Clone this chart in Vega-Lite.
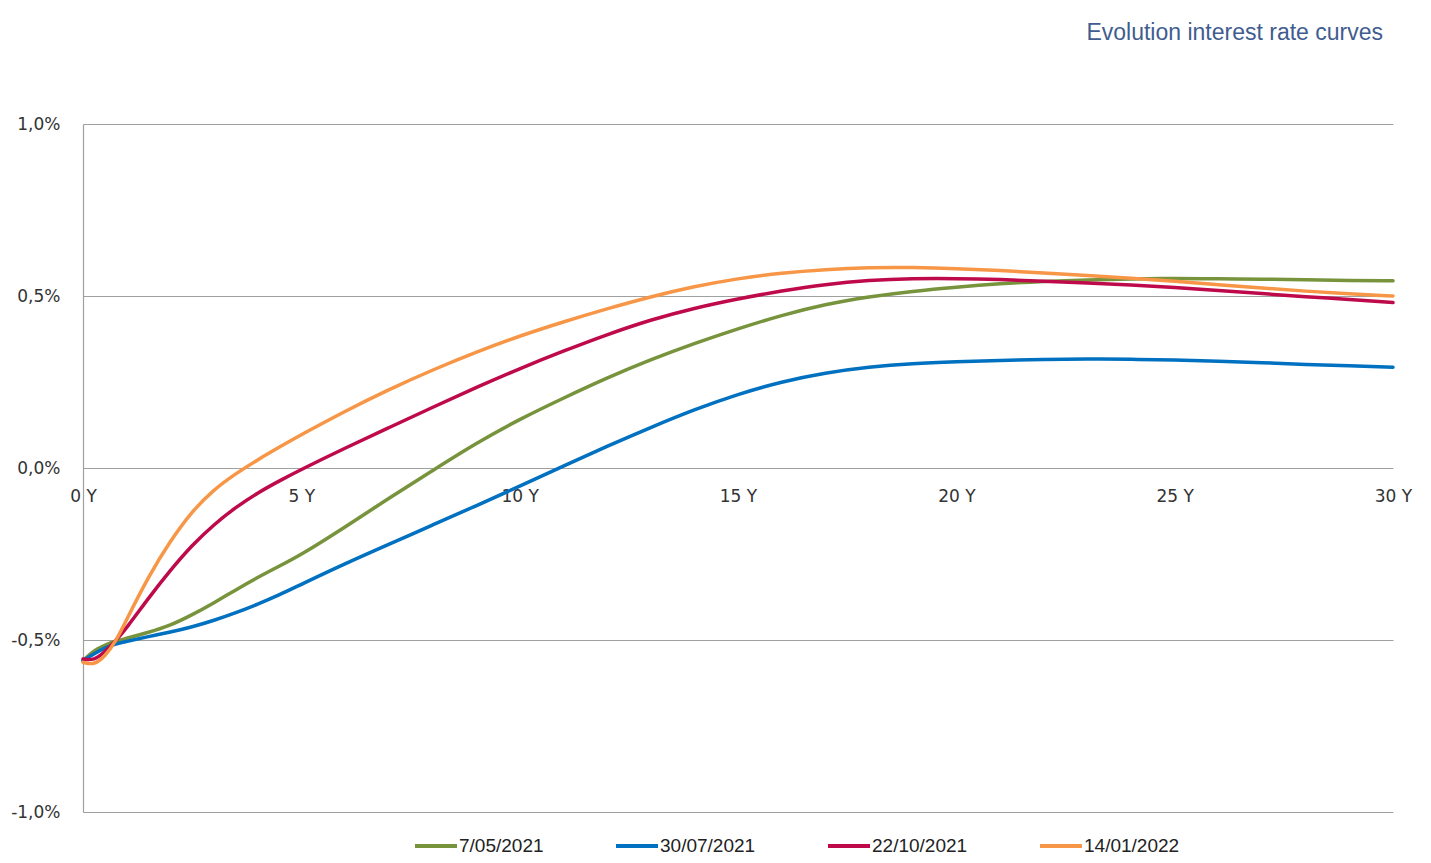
{
  "$schema": "https://vega.github.io/schema/vega-lite/v6.json",
  "autosize": {"type": "none"},
  "width": 1310,
  "height": 688,
  "padding": {"left": 83, "top": 124, "right": 38, "bottom": 51},
  "background": "white",
  "config": {"view": {"stroke": null}},
  "title": {
    "text": "Evolution interest rate curves",
    "anchor": "end",
    "orient": "top",
    "frame": "group",
    "offset": 70,
    "dx": -10,
    "font": "Liberation Sans",
    "fontSize": 23,
    "fontWeight": "normal",
    "color": "#3f5d8f"
  },
  "datasets": {
    "curves": [
      {"date": "7/05/2021", "t": 0, "r": -0.56}, {"date": "7/05/2021", "t": 0.25, "r": -0.53}, {"date": "7/05/2021", "t": 0.5, "r": -0.515}, {"date": "7/05/2021", "t": 0.75, "r": -0.503}, {"date": "7/05/2021", "t": 1, "r": -0.495}, {"date": "7/05/2021", "t": 1.5, "r": -0.478}, {"date": "7/05/2021", "t": 2, "r": -0.458}, {"date": "7/05/2021", "t": 2.5, "r": -0.427}, {"date": "7/05/2021", "t": 3, "r": -0.392}, {"date": "7/05/2021", "t": 3.5, "r": -0.354}, {"date": "7/05/2021", "t": 4, "r": -0.318}, {"date": "7/05/2021", "t": 4.5, "r": -0.285}, {"date": "7/05/2021", "t": 5, "r": -0.252}, {"date": "7/05/2021", "t": 6, "r": -0.172}, {"date": "7/05/2021", "t": 7, "r": -0.088}, {"date": "7/05/2021", "t": 8, "r": -0.008}, {"date": "7/05/2021", "t": 9, "r": 0.072}, {"date": "7/05/2021", "t": 10, "r": 0.142}, {"date": "7/05/2021", "t": 11, "r": 0.203}, {"date": "7/05/2021", "t": 12, "r": 0.262}, {"date": "7/05/2021", "t": 13, "r": 0.315}, {"date": "7/05/2021", "t": 14, "r": 0.362}, {"date": "7/05/2021", "t": 15, "r": 0.405}, {"date": "7/05/2021", "t": 16, "r": 0.444}, {"date": "7/05/2021", "t": 17, "r": 0.476}, {"date": "7/05/2021", "t": 18, "r": 0.498}, {"date": "7/05/2021", "t": 19, "r": 0.514}, {"date": "7/05/2021", "t": 20, "r": 0.526}, {"date": "7/05/2021", "t": 21, "r": 0.536}, {"date": "7/05/2021", "t": 22, "r": 0.543}, {"date": "7/05/2021", "t": 23, "r": 0.547}, {"date": "7/05/2021", "t": 24, "r": 0.55}, {"date": "7/05/2021", "t": 25, "r": 0.551}, {"date": "7/05/2021", "t": 26, "r": 0.55}, {"date": "7/05/2021", "t": 27, "r": 0.549}, {"date": "7/05/2021", "t": 28, "r": 0.547}, {"date": "7/05/2021", "t": 29, "r": 0.545}, {"date": "7/05/2021", "t": 30, "r": 0.544},
      {"date": "30/07/2021", "t": 0, "r": -0.56}, {"date": "30/07/2021", "t": 0.25, "r": -0.54}, {"date": "30/07/2021", "t": 0.5, "r": -0.523}, {"date": "30/07/2021", "t": 0.75, "r": -0.511}, {"date": "30/07/2021", "t": 1, "r": -0.504}, {"date": "30/07/2021", "t": 1.5, "r": -0.49}, {"date": "30/07/2021", "t": 2, "r": -0.477}, {"date": "30/07/2021", "t": 2.5, "r": -0.462}, {"date": "30/07/2021", "t": 3, "r": -0.443}, {"date": "30/07/2021", "t": 3.5, "r": -0.421}, {"date": "30/07/2021", "t": 4, "r": -0.396}, {"date": "30/07/2021", "t": 4.5, "r": -0.369}, {"date": "30/07/2021", "t": 5, "r": -0.338}, {"date": "30/07/2021", "t": 6, "r": -0.278}, {"date": "30/07/2021", "t": 7, "r": -0.222}, {"date": "30/07/2021", "t": 8, "r": -0.166}, {"date": "30/07/2021", "t": 9, "r": -0.11}, {"date": "30/07/2021", "t": 10, "r": -0.053}, {"date": "30/07/2021", "t": 11, "r": 0.006}, {"date": "30/07/2021", "t": 12, "r": 0.063}, {"date": "30/07/2021", "t": 13, "r": 0.118}, {"date": "30/07/2021", "t": 14, "r": 0.17}, {"date": "30/07/2021", "t": 15, "r": 0.215}, {"date": "30/07/2021", "t": 16, "r": 0.251}, {"date": "30/07/2021", "t": 17, "r": 0.277}, {"date": "30/07/2021", "t": 18, "r": 0.294}, {"date": "30/07/2021", "t": 19, "r": 0.304}, {"date": "30/07/2021", "t": 20, "r": 0.309}, {"date": "30/07/2021", "t": 21, "r": 0.313}, {"date": "30/07/2021", "t": 22, "r": 0.316}, {"date": "30/07/2021", "t": 23, "r": 0.317}, {"date": "30/07/2021", "t": 24, "r": 0.316}, {"date": "30/07/2021", "t": 25, "r": 0.314}, {"date": "30/07/2021", "t": 26, "r": 0.311}, {"date": "30/07/2021", "t": 27, "r": 0.306}, {"date": "30/07/2021", "t": 28, "r": 0.301}, {"date": "30/07/2021", "t": 29, "r": 0.297}, {"date": "30/07/2021", "t": 30, "r": 0.293},
      {"date": "22/10/2021", "t": 0, "r": -0.555}, {"date": "22/10/2021", "t": 0.25, "r": -0.56}, {"date": "22/10/2021", "t": 0.5, "r": -0.535}, {"date": "22/10/2021", "t": 0.75, "r": -0.502}, {"date": "22/10/2021", "t": 1, "r": -0.465}, {"date": "22/10/2021", "t": 1.5, "r": -0.378}, {"date": "22/10/2021", "t": 2, "r": -0.297}, {"date": "22/10/2021", "t": 2.5, "r": -0.224}, {"date": "22/10/2021", "t": 3, "r": -0.164}, {"date": "22/10/2021", "t": 3.5, "r": -0.114}, {"date": "22/10/2021", "t": 4, "r": -0.072}, {"date": "22/10/2021", "t": 4.5, "r": -0.037}, {"date": "22/10/2021", "t": 5, "r": -0.004}, {"date": "22/10/2021", "t": 6, "r": 0.058}, {"date": "22/10/2021", "t": 7, "r": 0.117}, {"date": "22/10/2021", "t": 8, "r": 0.176}, {"date": "22/10/2021", "t": 9, "r": 0.234}, {"date": "22/10/2021", "t": 10, "r": 0.289}, {"date": "22/10/2021", "t": 11, "r": 0.34}, {"date": "22/10/2021", "t": 12, "r": 0.388}, {"date": "22/10/2021", "t": 13, "r": 0.431}, {"date": "22/10/2021", "t": 14, "r": 0.465}, {"date": "22/10/2021", "t": 15, "r": 0.492}, {"date": "22/10/2021", "t": 16, "r": 0.515}, {"date": "22/10/2021", "t": 17, "r": 0.534}, {"date": "22/10/2021", "t": 18, "r": 0.546}, {"date": "22/10/2021", "t": 19, "r": 0.551}, {"date": "22/10/2021", "t": 20, "r": 0.551}, {"date": "22/10/2021", "t": 21, "r": 0.548}, {"date": "22/10/2021", "t": 22, "r": 0.543}, {"date": "22/10/2021", "t": 23, "r": 0.538}, {"date": "22/10/2021", "t": 24, "r": 0.532}, {"date": "22/10/2021", "t": 25, "r": 0.525}, {"date": "22/10/2021", "t": 26, "r": 0.516}, {"date": "22/10/2021", "t": 27, "r": 0.507}, {"date": "22/10/2021", "t": 28, "r": 0.498}, {"date": "22/10/2021", "t": 29, "r": 0.49}, {"date": "22/10/2021", "t": 30, "r": 0.481},
      {"date": "14/01/2022", "t": 0, "r": -0.565}, {"date": "14/01/2022", "t": 0.25, "r": -0.573}, {"date": "14/01/2022", "t": 0.5, "r": -0.548}, {"date": "14/01/2022", "t": 0.75, "r": -0.505}, {"date": "14/01/2022", "t": 1, "r": -0.44}, {"date": "14/01/2022", "t": 1.5, "r": -0.315}, {"date": "14/01/2022", "t": 2, "r": -0.212}, {"date": "14/01/2022", "t": 2.5, "r": -0.125}, {"date": "14/01/2022", "t": 3, "r": -0.062}, {"date": "14/01/2022", "t": 3.5, "r": -0.016}, {"date": "14/01/2022", "t": 4, "r": 0.024}, {"date": "14/01/2022", "t": 4.5, "r": 0.061}, {"date": "14/01/2022", "t": 5, "r": 0.097}, {"date": "14/01/2022", "t": 6, "r": 0.165}, {"date": "14/01/2022", "t": 7, "r": 0.228}, {"date": "14/01/2022", "t": 8, "r": 0.285}, {"date": "14/01/2022", "t": 9, "r": 0.337}, {"date": "14/01/2022", "t": 10, "r": 0.384}, {"date": "14/01/2022", "t": 11, "r": 0.425}, {"date": "14/01/2022", "t": 12, "r": 0.463}, {"date": "14/01/2022", "t": 13, "r": 0.498}, {"date": "14/01/2022", "t": 14, "r": 0.528}, {"date": "14/01/2022", "t": 15, "r": 0.551}, {"date": "14/01/2022", "t": 16, "r": 0.567}, {"date": "14/01/2022", "t": 17, "r": 0.577}, {"date": "14/01/2022", "t": 18, "r": 0.583}, {"date": "14/01/2022", "t": 19, "r": 0.583}, {"date": "14/01/2022", "t": 20, "r": 0.58}, {"date": "14/01/2022", "t": 21, "r": 0.574}, {"date": "14/01/2022", "t": 22, "r": 0.567}, {"date": "14/01/2022", "t": 23, "r": 0.56}, {"date": "14/01/2022", "t": 24, "r": 0.552}, {"date": "14/01/2022", "t": 25, "r": 0.543}, {"date": "14/01/2022", "t": 26, "r": 0.533}, {"date": "14/01/2022", "t": 27, "r": 0.523}, {"date": "14/01/2022", "t": 28, "r": 0.514}, {"date": "14/01/2022", "t": 29, "r": 0.506}, {"date": "14/01/2022", "t": 30, "r": 0.5}
    ]
  },
  "data": {"name": "curves"},
  "mark": {"type": "line", "interpolate": "basis", "strokeWidth": 3.5, "strokeCap": "round"},
  "encoding": {
    "x": {
      "field": "t",
      "type": "quantitative",
      "scale": {"domain": [0, 30], "nice": false, "zero": false},
      "axis": {
        "title": null,
        "values": [0, 5, 10, 15, 20, 25, 30],
        "labelExpr": "datum.value + ' Y'",
        "offset": -344,
        "domain": false,
        "ticks": false,
        "grid": false,
        "labelPadding": 20,
        "labelFont": "DejaVu Sans",
        "labelFontSize": 17,
        "labelColor": "#333333",
        "labelFlush": false,
        "labelOverlap": false
      }
    },
    "y": {
      "field": "r",
      "type": "quantitative",
      "scale": {"domain": [-1, 1], "nice": false, "zero": false},
      "axis": {
        "title": null,
        "values": [-1, -0.5, 0, 0.5, 1],
        "labelExpr": "(datum.value < 0 ? '-' : '') + replace(format(abs(datum.value), '.1f'), '.', ',') + '%'",
        "domain": true,
        "domainColor": "#a0a0a0",
        "domainWidth": 1.2,
        "ticks": false,
        "grid": true,
        "gridColor": "#a0a0a0",
        "gridWidth": 1.2,
        "labelPadding": 23,
        "labelFont": "DejaVu Sans",
        "labelFontSize": 17,
        "labelColor": "#333333",
        "labelFlush": false,
        "labelOverlap": false
      }
    },
    "color": {
      "field": "date",
      "type": "nominal",
      "scale": {
        "domain": ["7/05/2021", "30/07/2021", "22/10/2021", "14/01/2022"],
        "range": ["#77933c", "#0070c0", "#be0a4b", "#f79646"]
      },
      "legend": {
        "title": null,
        "orient": "none",
        "direction": "horizontal",
        "legendX": 330,
        "legendY": 699,
        "symbolType": "stroke",
        "symbolSize": 1764,
        "symbolStrokeWidth": 4,
        "labelOffset": 0,
        "columnPadding": 64,
        "labelFont": "Liberation Sans",
        "labelFontSize": 19,
        "labelColor": "#222222"
      }
    }
  }
}
